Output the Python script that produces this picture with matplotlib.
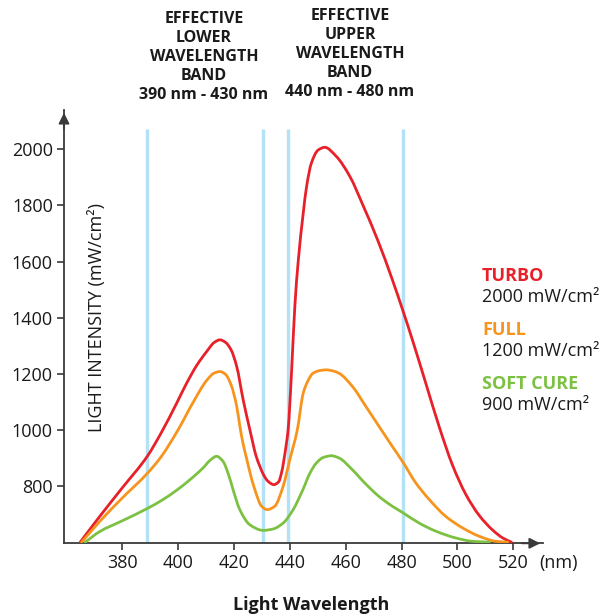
import matplotlib
matplotlib.use('Agg')
import matplotlib.pyplot as plt
from matplotlib.path import Path
from matplotlib.patches import PathPatch

plt.rcParams['font.family'] = ['Open Sans', 'DejaVu Sans']

# ---------------- data ----------------
turbo_nm = [365, 372, 380, 389, 394, 399.5, 403, 406.7, 410.3, 413, 415, 417, 419, 421,
            423.3, 425.7, 428, 429.3, 430.5, 432.2, 434.3, 436, 437, 438.8, 439.4, 440.6,
            441.8, 443, 444.8, 446, 447.7, 450.1, 452.5, 456.7, 461.5, 466.2, 471.5, 476.7,
            480.3, 483.9, 488.7, 493.5, 498.2, 503, 507.8, 512.6, 516.2, 519.3]
turbo_val = [600, 692, 793, 906, 990, 1095, 1165, 1230, 1280, 1312, 1321, 1312, 1285, 1226,
             1108, 1001, 905, 870, 842, 817, 805, 815, 846, 953, 1001, 1202,
             1440, 1600, 1772, 1867, 1950, 1997, 2007, 1974, 1903, 1800, 1675, 1535,
             1430, 1320, 1165, 1010, 875, 770, 695, 643, 615, 600]

full_nm = [365.5, 372, 380, 389, 394, 400, 405.5, 410.3, 413, 415, 417, 419, 421, 422.1,
           423.3, 424.5, 425.7, 427.5, 429.9, 431.9, 434.6, 437.6, 440, 442.7, 444.8, 446.5,
           448.3, 451, 453.1, 455.5, 457.6, 462.4, 467.2, 471.9, 476.7, 480.3, 485.1, 489.9,
           495.8, 501.8, 507.8, 513.8, 518]
full_val = [600, 674, 757, 845, 905, 1000, 1100, 1177, 1203, 1208, 1198, 1160, 1084, 1015,
            950, 900, 850, 787, 728, 716, 728, 799, 894, 1001, 1131, 1175,
            1202, 1212, 1214, 1210, 1202, 1155, 1084, 1013, 941, 888, 811, 752,
            692, 651, 621, 603, 600]

soft_nm = [366.8, 372, 380, 389, 394, 399.5, 404.2, 409, 411.5, 413.8, 416.1, 417.9, 419.7,
           422.1, 425.7, 430.5, 434, 437.6, 441.2, 444.8, 447.2, 449.5, 452, 454.9, 457.6,
           462.4, 467.2, 471.9, 476.7, 480.3, 486.3, 492.3, 499.4, 505.4, 511.4]
soft_val = [600, 638, 676, 720, 748, 785, 822, 865, 892, 906, 888, 846, 787,
            716, 662, 642, 647, 668, 716, 790, 846, 882, 902, 908, 900,
            858, 807, 763, 728, 706, 668, 639, 615, 603, 600]

band_lines = [389, 430.5, 439.5, 480.5]
xticks = [380, 400, 420, 440, 460, 480, 500, 520]
yticks = [800, 1000, 1200, 1400, 1600, 1800, 2000]

series_names = ['TURBO', 'FULL', 'SOFT CURE']
series_power = ['2000 mW/cm\u00b2', '1200 mW/cm\u00b2', '900 mW/cm\u00b2']
series_colors = ['#E8202A', '#F7941D', '#7CC142']

band_labels = ['EFFECTIVE\nLOWER\nWAVELENGTH\nBAND\n390 nm - 430 nm',
               'EFFECTIVE\nUPPER\nWAVELENGTH\nBAND\n440 nm - 480 nm']


def smooth_path(xs, ys):
    """Shape-preserving cubic Bezier path through the given points (drawn by matplotlib)."""
    n = len(xs)
    h = [xs[i + 1] - xs[i] for i in range(n - 1)]
    d = [(ys[i + 1] - ys[i]) / h[i] for i in range(n - 1)]
    m = [0.0] * n
    m[0] = d[0]
    m[-1] = d[-1]
    for i in range(1, n - 1):
        if d[i - 1] * d[i] <= 0:
            m[i] = 0.0
        else:
            w1 = 2 * h[i] + h[i - 1]
            w2 = h[i] + 2 * h[i - 1]
            m[i] = (w1 + w2) / (w1 / d[i - 1] + w2 / d[i])
    verts = [(xs[0], ys[0])]
    codes = [Path.MOVETO]
    for i in range(n - 1):
        verts += [(xs[i] + h[i] / 3, ys[i] + m[i] * h[i] / 3),
                  (xs[i + 1] - h[i] / 3, ys[i + 1] - m[i + 1] * h[i] / 3),
                  (xs[i + 1], ys[i + 1])]
        codes += [Path.CURVE4] * 3
    return Path(verts, codes)


# ---------------- figure ----------------
W, H = 610, 616
fig = plt.figure(figsize=(W / 100, H / 100), dpi=100)
ax = fig.add_axes([64 / W, (H - 543.3) / H, (543 - 64) / W, (543.3 - 110) / H])
ax.set_xlim(359.2, 530.6)
ax.set_ylim(596, 2140)

axis_col = '#3a3a3a'
for s in ['top', 'right']:
    ax.spines[s].set_visible(False)
for s in ['left', 'bottom']:
    ax.spines[s].set_color(axis_col)
    ax.spines[s].set_linewidth(1.3)

ax.vlines(band_lines, 596, 2072, colors='#B3E1F6', lw=2.4, zorder=1)

for xs, ys, c in zip([turbo_nm, full_nm, soft_nm], [turbo_val, full_val, soft_val], series_colors):
    ax.add_patch(PathPatch(smooth_path(xs, ys), facecolor='none', edgecolor=c, lw=2.0,
                           capstyle='round', joinstyle='round', zorder=3))

ax.set_xticks(xticks)
ax.set_yticks(yticks)
ax.tick_params(direction='out', length=5, width=1.2, colors=axis_col, labelcolor='#1a1a1a',
               labelsize=13, pad=3)

# arrow heads
ax.annotate('', xy=(1.0, 0), xytext=(0.95, 0), xycoords='axes fraction',
            arrowprops=dict(arrowstyle='-|>', color=axis_col, lw=1.3, mutation_scale=16))
ax.annotate('', xy=(0, 1.0), xytext=(0, 0.95), xycoords='axes fraction',
            arrowprops=dict(arrowstyle='-|>', color=axis_col, lw=1.3, mutation_scale=16))


def fx(px):
    return px / W


def fy(py):
    return 1 - py / H


fig.text(fx(558), fy(563), '(nm)', fontsize=13, ha='center', va='center', color='#1a1a1a')
fig.text(fx(311), fy(605), 'Light Wavelength', fontsize=13, fontweight='bold',
         ha='center', va='center', color='#1a1a1a')
fig.text(fx(97), fy(317), 'LIGHT INTENSITY (mW/cm\u00b2)', fontsize=13, rotation=90,
         ha='center', va='center', color='#1a1a1a')

# band labels
fig.text(fx(204), fy(11), band_labels[0], fontsize=11.5, fontweight='bold', ha='center',
         va='top', linespacing=1.24, color='#1a1a1a')
fig.text(fx(350), fy(8), band_labels[1], fontsize=11.5, fontweight='bold', ha='center',
         va='top', linespacing=1.24, color='#1a1a1a')

# legend-like labels
name_y = [276, 330, 384]
for n, p, c, yy in zip(series_names, series_power, series_colors, name_y):
    fig.text(fx(482), fy(yy), n, fontsize=13, fontweight='bold', color=c, ha='left', va='center')
    fig.text(fx(482), fy(yy + 21), p, fontsize=13, color='#1a1a1a', ha='left', va='center')

fig.savefig('out.png', dpi=100)
